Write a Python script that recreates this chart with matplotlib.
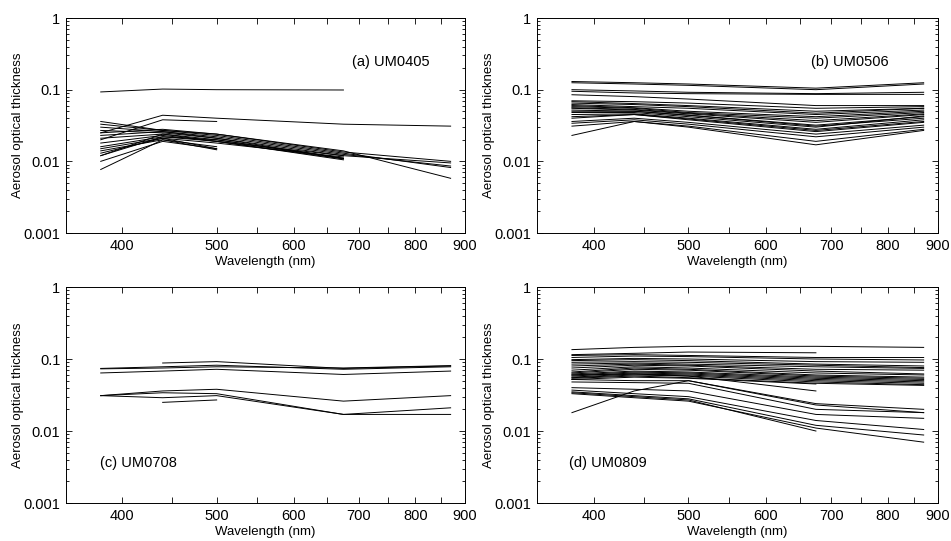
"""
Spectral aerosol optical thickness for the four cruises (UM0405, UM0506, UM0708, UM0809).
"""

import numpy as np
import matplotlib
matplotlib.use("Agg")
import matplotlib.pyplot as plt
from matplotlib.ticker import FixedLocator, NullFormatter, LogLocator

plt.rcParams["font.family"] = ["Liberation Sans", "DejaVu Sans"]

WAVELENGTHS = [380, 440, 500, 675, 870]
nan = np.nan

# (a) UM0405
AOT_UM0405 = [
    [0.093, 0.102, 0.100, 0.099, nan],
    [0.025, 0.044, 0.040, 0.033, 0.031],
    [0.020, 0.038, 0.036, nan, nan],
    [0.036, 0.027, 0.024, 0.014, 0.0058],
    [0.033, 0.027, 0.023, 0.013, 0.0082],
    [0.030, 0.026, 0.022, 0.0125, 0.0086],
    [0.027, 0.025, 0.021, 0.012, 0.0095],
    [0.025, 0.028, 0.024, 0.0135, 0.010],
    [0.023, 0.026, 0.021, 0.011, nan],
    [0.021, 0.024, 0.020, 0.011, nan],
    [0.018, 0.023, 0.019, 0.0105, nan],
    [0.016, 0.022, 0.019, 0.0108, nan],
    [0.015, 0.021, 0.018, 0.0115, nan],
    [0.014, 0.020, 0.016, nan, nan],
    [0.013, 0.021, 0.015, nan, nan],
    [0.012, 0.024, 0.019, 0.012, nan],
    [0.012, 0.022, 0.020, 0.011, nan],
    [0.010, 0.019, 0.015, nan, nan],
    [0.0077, 0.020, 0.0145, nan, nan],
]

# (b) UM0506
AOT_UM0506 = [
    [0.130, 0.125, 0.120, 0.105, 0.125],
    [0.125, 0.120, 0.115, 0.100, 0.120],
    [0.100, 0.096, 0.092, 0.088, 0.092],
    [0.095, 0.090, 0.088, 0.086, 0.086],
    [0.085, 0.080, 0.074, 0.060, 0.060],
    [0.070, 0.068, 0.065, 0.055, 0.058],
    [0.068, 0.064, 0.060, 0.050, 0.055],
    [0.065, 0.062, 0.058, 0.047, 0.055],
    [0.062, 0.058, 0.055, 0.045, 0.052],
    [0.060, 0.056, 0.050, 0.042, 0.050],
    [0.058, 0.055, 0.048, 0.040, 0.048],
    [0.056, 0.053, 0.047, 0.037, 0.046],
    [0.055, 0.052, 0.046, 0.035, 0.045],
    [0.052, 0.050, 0.044, 0.032, 0.042],
    [0.050, 0.050, 0.044, 0.031, 0.040],
    [0.048, 0.048, 0.042, 0.030, 0.043],
    [0.045, 0.046, 0.040, 0.028, 0.038],
    [0.042, 0.045, 0.039, 0.027, 0.036],
    [0.040, 0.045, 0.038, 0.026, 0.035],
    [0.036, 0.040, 0.035, 0.024, 0.032],
    [0.034, 0.038, 0.033, 0.022, 0.030],
    [0.031, 0.036, 0.031, 0.019, 0.028],
    [0.023, 0.036, 0.030, 0.017, 0.027],
]

# (c) UM0708
AOT_UM0708 = [
    [nan, 0.088, 0.092, 0.074, 0.080],
    [0.074, 0.078, 0.082, 0.072, 0.078],
    [0.073, 0.075, 0.078, 0.075, 0.081],
    [0.064, 0.068, 0.072, 0.061, 0.068],
    [0.031, 0.036, 0.038, 0.026, 0.031],
    [0.031, 0.034, 0.033, 0.017, 0.021],
    [0.031, 0.029, 0.031, 0.017, 0.017],
    [nan, 0.025, 0.027, nan, nan],
]

# (d) UM0809
AOT_UM0809 = [
    [0.135, 0.145, 0.150, 0.150, 0.145],
    [0.115, 0.120, 0.125, 0.122, nan],
    [0.112, 0.115, 0.112, 0.105, 0.105],
    [0.105, 0.110, 0.108, 0.100, 0.097],
    [0.098, 0.102, 0.100, 0.092, 0.090],
    [0.095, 0.098, 0.095, 0.085, 0.080],
    [0.090, 0.092, 0.090, 0.082, 0.076],
    [0.085, 0.088, 0.085, 0.078, 0.074],
    [0.080, 0.085, 0.082, 0.072, 0.070],
    [0.075, 0.082, 0.080, 0.068, 0.062],
    [0.070, 0.078, 0.075, 0.064, 0.060],
    [0.066, 0.075, 0.072, 0.060, 0.056],
    [0.064, 0.072, 0.070, 0.058, 0.054],
    [0.062, 0.068, 0.066, 0.056, 0.052],
    [0.060, 0.066, 0.064, 0.054, 0.050],
    [0.058, 0.064, 0.062, 0.052, 0.048],
    [0.056, 0.062, 0.060, 0.050, 0.046],
    [0.055, 0.060, 0.058, 0.048, 0.044],
    [0.054, 0.058, 0.055, 0.046, 0.043],
    [0.052, 0.056, 0.054, 0.045, nan],
    [0.060, 0.062, 0.058, 0.036, nan],
    [0.052, 0.050, 0.050, 0.024, 0.020],
    [0.048, 0.047, 0.046, 0.020, 0.018],
    [0.040, 0.038, 0.036, 0.017, 0.015],
    [0.037, 0.033, 0.030, 0.014, 0.0105],
    [0.035, 0.031, 0.028, 0.012, 0.0088],
    [0.033, 0.029, 0.026, 0.011, 0.007],
    [0.034, 0.030, 0.027, 0.010, nan],
    [0.018, 0.036, 0.050, 0.023, 0.018],
]

PANELS = [
    ("(a) UM0405", AOT_UM0405, (0.717, 0.795)),
    ("(b) UM0506", AOT_UM0506, (0.684, 0.795)),
    ("(c) UM0708", AOT_UM0708, (0.085, 0.185)),
    ("(d) UM0809", AOT_UM0809, (0.080, 0.185)),
]

AX_POS = [
    [0.0694, 0.5693, 0.4195, 0.3974],
    [0.5647, 0.5693, 0.4217, 0.3974],
    [0.0694, 0.0702, 0.4195, 0.3993],
    [0.5647, 0.0702, 0.4217, 0.3993],
]

fig = plt.figure(figsize=(9.51, 5.41), dpi=100)

for (label, series, txt_pos), pos in zip(PANELS, AX_POS):
    ax = fig.add_axes(pos)
    for vals in series:
        vals = np.array(vals, dtype=float)
        ok = ~np.isnan(vals)
        ax.plot(np.array(WAVELENGTHS)[ok], vals[ok], color="black", lw=0.7)

    ax.set_xscale("log")
    ax.set_yscale("log")
    ax.set_xlim(350, 900)
    ax.set_ylim(0.001, 1)

    ax.xaxis.set_major_locator(FixedLocator([400, 500, 600, 700, 800, 900]))
    ax.xaxis.set_minor_locator(FixedLocator([450, 550, 650, 750, 850]))
    ax.xaxis.set_major_formatter(plt.FuncFormatter(lambda v, p: f"{v:.0f}"))
    ax.xaxis.set_minor_formatter(NullFormatter())

    ax.yaxis.set_major_locator(FixedLocator([0.001, 0.01, 0.1, 1]))
    ax.yaxis.set_minor_locator(LogLocator(base=10, subs=np.arange(2, 10)))
    ax.yaxis.set_major_formatter(plt.FuncFormatter(lambda v, p: f"{v:g}"))
    ax.yaxis.set_minor_formatter(NullFormatter())

    ax.tick_params(which="both", direction="in", top=True, right=True,
                   labelsize=10.5, width=0.6)
    ax.tick_params(axis="x", which="major", length=4, pad=4)
    ax.tick_params(axis="x", which="minor", length=4)
    ax.tick_params(axis="y", which="major", length=4, pad=4)
    ax.tick_params(axis="y", which="minor", length=2)
    for s in ax.spines.values():
        s.set_linewidth(0.7)

    ax.set_xlabel("Wavelength (nm)", fontsize=9.5, labelpad=2.5)
    ax.set_ylabel("Aerosol optical thickness", fontsize=9.5, labelpad=0)
    ax.text(txt_pos[0], txt_pos[1], label, transform=ax.transAxes,
            fontsize=10.5, ha="left", va="center")

plt.savefig("out.png", dpi=100)
plt.close()
